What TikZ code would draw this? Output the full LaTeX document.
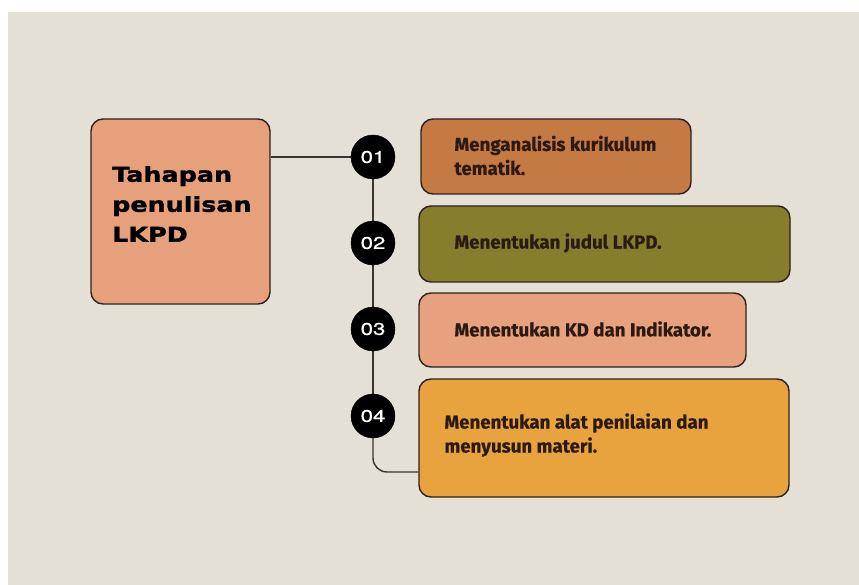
\documentclass[tikz,border=0pt]{standalone}
\usepackage{fontspec}
\usetikzlibrary{calc}
\newfontfamily\titlefont[FakeStretch=1.24, FakeBold=1.6]{DejaVu Sans Bold}
\newfontfamily\numfont[FakeStretch=1.3, FakeBold=0.8]{TeX Gyre Heros}
\newfontfamily\boxfont[FakeBold=0.7]{Fira Sans}
\definecolor{bgc}{HTML}{E4E0D5}
\definecolor{mainc}{HTML}{E6A07C}
\definecolor{boxa}{HTML}{C57943}
\definecolor{boxb}{HTML}{867E2C}
\definecolor{boxc}{HTML}{E8A17E}
\definecolor{boxd}{HTML}{E8A33F}
\definecolor{edgec}{HTML}{2B2220}
\definecolor{txtc}{HTML}{2A1A12}
\definecolor{linec}{HTML}{3A3330}
\tikzset{
  card/.style={draw=edgec, line width=1.4pt, rounded corners=12pt, inner sep=0pt},
  cardtext/.style={anchor=west, inner sep=0pt, align=left, text=txtc,
    font=\boxfont\bfseries\fontsize{18.7}{24}\selectfont},
  numdot/.style={circle, fill=black, draw=black, minimum size=44pt, inner sep=0pt,
    text=white, font=\numfont\fontsize{17}{17}\selectfont},
  link/.style={draw=linec, line width=1.4pt},
}
\begin{document}
\begin{tikzpicture}[x=1pt,y=-1pt]
\useasboundingbox (0,0) rectangle (859,585);
\fill[white] (0,0) rectangle (859,585);
\fill[bgc] (8,12) rectangle (859,585);
% main box
\node[card, fill=mainc, minimum width=179pt, minimum height=185pt] (main) at (180.5,211.5) {};
\node[anchor=north west, inner sep=0pt, align=left, text=black,
  font=\titlefont\fontsize{20.5}{30}\selectfont] (title) at (112,166)
  {Tahapan\\penulisan\\LKPD};
% circles
\coordinate (p1) at (373,157);
\coordinate (p4) at (373,416);
\draw[link] (p1) -- (p4);
\node[numdot] (c1) at (373,157) {01};
\node[numdot] (c2) at (373,243) {02};
\node[numdot] (c3) at (373,329) {03};
\node[numdot] (c4) at (373,416) {04};
% boxes
\node[card, fill=boxa, minimum width=270pt, minimum height=75pt] (b1) at (556,156.5) {};
\node[card, fill=boxb, minimum width=371pt, minimum height=76pt] (b2) at (604.5,244) {};
\node[card, fill=boxc, minimum width=327pt, minimum height=74pt] (b3) at (582.5,330) {};
\node[card, fill=boxd, minimum width=370pt, minimum height=118pt] (b4) at (604,438) {};
\node[cardtext] (t1) at ([xshift=34pt,yshift=1pt]b1.west) {Menganalisis kurikulum\\tematik.};
\node[cardtext] (t2) at ([xshift=36pt,yshift=1pt]b2.west) {Menentukan judul LKPD.};
\node[cardtext] (t3) at ([xshift=36pt,yshift=1pt]b3.west) {Menentukan KD dan Indikator.};
\node[cardtext] (t4) at ([xshift=26pt,yshift=3pt]b4.west) {Menentukan alat penilaian dan\\menyusun materi.};
% connectors
\draw[link] (c1.west) -- (c1.west -| main.east);
\draw[link, rounded corners=14pt] (c4.south) |- ([yshift=-34pt]b4.west);
\end{tikzpicture}
\end{document}
